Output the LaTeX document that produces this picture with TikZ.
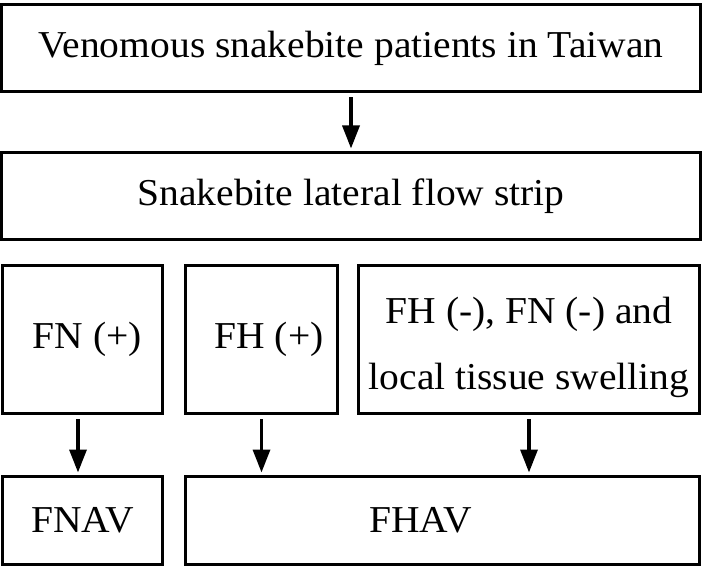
\documentclass[tikz,border=0pt]{standalone}
\usepackage{fontspec}
\setmainfont[FakeStretch=1.04]{Liberation Serif}
\usetikzlibrary{arrows.meta,positioning,calc}

\begin{document}
\begin{tikzpicture}[x=1pt,y=-1pt,>={Triangle[width=17pt,length=23pt]},
  stepbox/.style={draw,line width=3pt,inner sep=0pt,outer sep=0pt,
    font=\fontsize{38}{65}\selectfont,align=center},
  flow/.style={->,line width=3.4pt,shorten <=6pt,shorten >=4pt}]
\useasboundingbox (0,0) rectangle (702,569);
%top boxes
\node[stepbox,minimum width=699pt,minimum height=87pt] (venom) at (351,48)
  {Venomous snakebite patients in Taiwan};
\node[stepbox,minimum width=699pt,minimum height=87pt] (strip) at (351,196)
  {Snakebite lateral flow strip};
%strip results
\node[stepbox,minimum width=160pt,minimum height=148pt] (fnpos) at (82.5,339.5)
  {\hspace*{10pt}FN (+)};
\node[stepbox,minimum width=152pt,minimum height=148pt] (fhpos) at (261.5,339.5)
  {\hspace*{15pt}FH (+)};
\node[stepbox,minimum width=341pt,minimum height=148pt] (neg) at (529,339.5) {};
\node[font=\fontsize{38}{66}\selectfont,align=center,inner sep=0pt]
  (negtext) at ([yshift=-8pt]neg.center) {FH (-), FN (-) and\\local tissue swelling};
%antivenoms
\node[stepbox,minimum width=160pt,minimum height=88pt] (fnav) at (82.5,520.5)
  {FNAV};
\node[stepbox,minimum width=514pt,minimum height=88pt] (fhav) at (442.5,520.5)
  {FHAV\hspace*{44pt}};
%arrows
\draw[flow] (venom.south) -- (strip.north);
\draw[flow] ([xshift=-4.5pt]fnpos.south) -- ([xshift=-4.5pt]fnpos.south |- fnav.north);
\draw[flow] (fhpos.south) -- (fhpos.south |- fhav.north);
\draw[flow] (neg.south) -- (neg.south |- fhav.north);
\end{tikzpicture}
\end{document}
